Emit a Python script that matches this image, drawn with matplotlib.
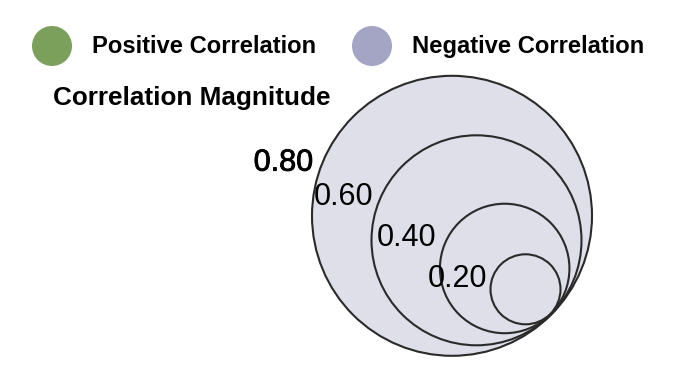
import matplotlib
matplotlib.use("Agg")
import matplotlib.pyplot as plt
from matplotlib.patches import Circle
import matplotlib.patheffects as pe

# ---- data ----
legend_labels = ["Positive Correlation", "Negative Correlation"]
legend_colors = ["#7ba05c", "#a4a5c4"]
size_title = "Correlation Magnitude"
circle_magnitudes = [0.80, 0.60, 0.37, 0.20]          # sizes
magnitude_labels = ["0.80", "0.60", "0.40", "0.20"]

# ---- layout / style ----
W, H = 674, 366
FONT = "Liberation Sans"
RADIUS_PER_UNIT = 175.0          # px of radius per unit magnitude
OUTER_CENTER = (452.0, 215.8)
SHIFT_DIR = (0.70, 0.70)         # direction inner circles are pushed toward
LABEL_DX = [1.3, 1.4, -3.9, -3.2]
LABEL_DY = [-45.1, -35.0, -22.5, -2.5]
FILL = "#dfdfe9"
EDGE = "#2a2a2a"

fig = plt.figure(figsize=(W / 100, H / 100), dpi=100)
ax = fig.add_axes([0, 0, 1, 1])
ax.set_xlim(0, W)
ax.set_ylim(H, 0)
ax.set_aspect("equal")
ax.axis("off")

# legend
leg_x = [52, 372]
for i, (lab, col) in enumerate(zip(legend_labels, legend_colors)):
    ax.add_patch(Circle((leg_x[i], 46), 20, facecolor=col, edgecolor="none"))
    ax.text(leg_x[i] + 40, 53.3, lab, fontsize=17.1, fontweight="bold",
            family=FONT, ha="left", va="baseline", color="black")

ax.text(53, 105.5, size_title, fontsize=18.8, fontweight="bold",
        family=FONT, ha="left", va="baseline", color="black")

# nested magnitude circles
R0 = circle_magnitudes[0] * RADIUS_PER_UNIT
for i, (m, lab) in enumerate(zip(circle_magnitudes, magnitude_labels)):
    r = m * RADIUS_PER_UNIT
    cx = OUTER_CENTER[0] + (R0 - r) * SHIFT_DIR[0]
    cy = OUTER_CENTER[1] + (R0 - r) * SHIFT_DIR[1]
    ax.add_patch(Circle((cx, cy), r, facecolor=FILL, edgecolor=EDGE,
                        linewidth=1.5, zorder=2 + i))
    t = ax.text(cx - r + LABEL_DX[i], cy + LABEL_DY[i], lab, fontsize=22,
                family=FONT, ha="right", va="baseline", color="black",
                zorder=20)
    if i == 0:
        t.set_path_effects([pe.withStroke(linewidth=0.6, foreground="black")])

fig.savefig("out.png", dpi=100)
